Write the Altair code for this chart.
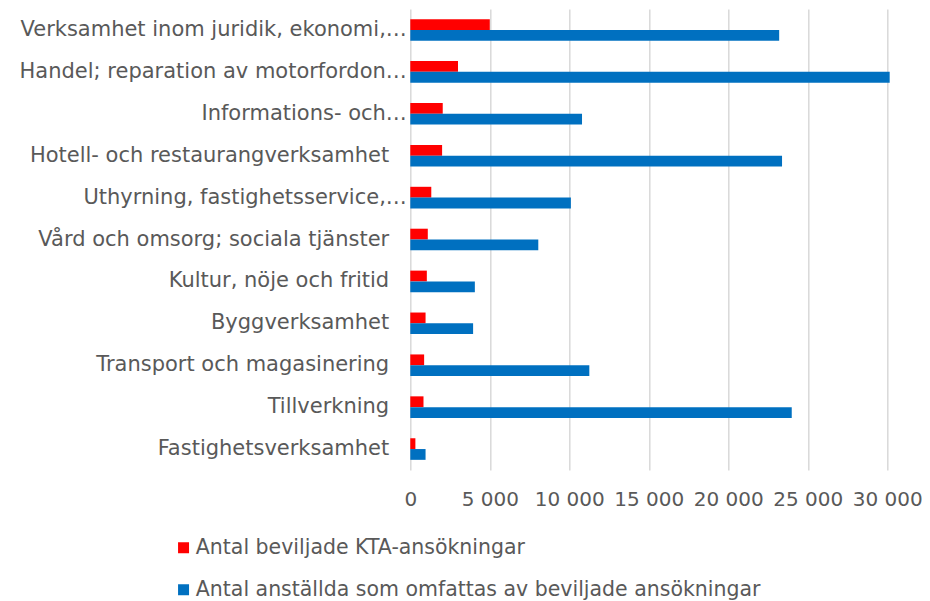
import altair as alt
import pandas as pd

categories = [
    "Verksamhet inom juridik, ekonomi,…",
    "Handel; reparation av motorfordon…",
    "Informations- och…",
    "Hotell- och restaurangverksamhet",
    "Uthyrning, fastighetsservice,…",
    "Vård och omsorg; sociala tjänster",
    "Kultur, nöje och fritid",
    "Byggverksamhet",
    "Transport och magasinering",
    "Tillverkning",
    "Fastighetsverksamhet",
]
kta_applications = [5000, 3000, 2040, 2000, 1320, 1100, 1040, 960, 870, 830, 320]
employees = [23200, 30150, 10800, 23380, 10100, 8050, 4060, 3950, 11260, 23990, 960]

series = [
    "Antal beviljade KTA-ansökningar",
    "Antal anställda som omfattas av beviljade ansökningar",
]
colors = ["#FF0000", "#0070C0"]
x_ticks = [0, 5000, 10000, 15000, 20000, 25000, 30000]

rows = []
for c, a, b in zip(categories, kta_applications, employees):
    rows.append({"Näringsgren": c, "Serie": series[0], "Värde": a})
    rows.append({"Näringsgren": c, "Serie": series[1], "Värde": b})
df = pd.DataFrame(rows)

font = "DejaVu Sans"
text_color = "#595959"

y_scale = alt.Scale(paddingInner=0.485, paddingOuter=0.2425)


def y_axis(show_truncated, padding):
    test = "slice(datum.label, -1) == '…'"
    expr = (
        f"{test} ? datum.label : ''" if show_truncated else f"{test} ? '' : datum.label"
    )
    return alt.Axis(
        title=None,
        orient="left",
        domain=False,
        ticks=False,
        grid=False,
        labelPadding=padding,
        labelFont=font,
        labelFontSize=21,
        labelColor=text_color,
        labelLimit=600,
        labelExpr=expr,
    )


bars = (
    alt.Chart(df)
    .mark_bar()
    .encode(
        y=alt.Y("Näringsgren:N", sort=categories, scale=y_scale, axis=y_axis(False, 21.6)),
        yOffset=alt.YOffset(
            "Serie:N",
            sort=series,
            scale=alt.Scale(domain=series, paddingInner=0, paddingOuter=0),
        ),
        x=alt.X(
            "Värde:Q",
            scale=alt.Scale(domain=[0, 30000], nice=False),
            axis=alt.Axis(
                title=None,
                values=x_ticks,
                domain=False,
                ticks=False,
                grid=True,
                gridColor="#d9d9d9",
                gridWidth=1.5,
                labelPadding=20,
                labelOverlap=False,
                labelFlush=False,
                labelFont=font,
                labelFontSize=20,
                labelColor=text_color,
                labelExpr="replace(format(datum.value, ','), ',', ' ')",
            ),
        ),
        color=alt.Color(
            "Serie:N",
            sort=series,
            scale=alt.Scale(domain=series, range=colors),
            legend=alt.Legend(
                title=None,
                orient="none",
                legendX=-237,
                legendY=528.5,
                direction="vertical",
                symbolType="square",
                symbolSize=121,
                symbolStrokeWidth=0,
                labelFont=font,
                labelFontSize=20.5,
                labelColor=text_color,
                labelOffset=2,
                rowPadding=21,
                labelLimit=800,
                padding=0,
            ),
        ),
    )
)

truncated_labels = (
    alt.Chart(df)
    .mark_point(opacity=0)
    .encode(
        y=alt.Y("Näringsgren:N", sort=categories, scale=y_scale, axis=y_axis(True, 4)),
    )
)

chart = (
    alt.layer(bars, truncated_labels)
    .resolve_axis(y="independent")
    .properties(
        width=477,
        height=461,
        autosize="none",
        padding={"left": 402.3, "top": 1, "right": 34.5, "bottom": 131},
    )
    .configure_view(strokeWidth=0)
)

chart.save("out.html", embed_options={"renderer": "svg", "actions": False})
